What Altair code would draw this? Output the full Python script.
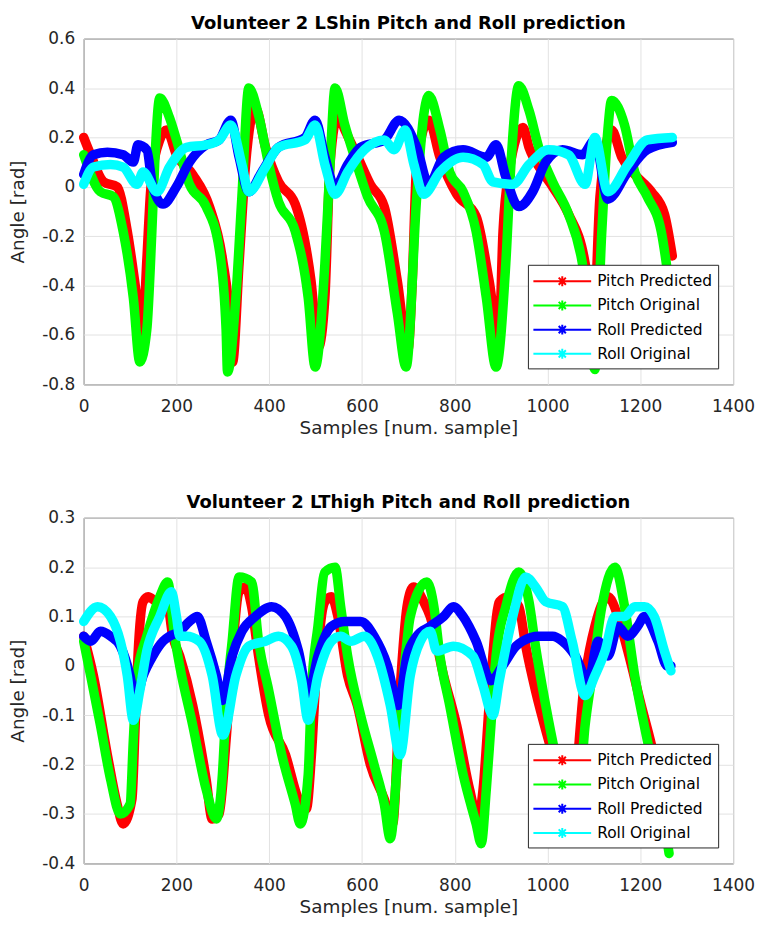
import altair as alt
import pandas as pd

SERIES = ["Pitch Predicted", "Pitch Original", "Roll Predicted", "Roll Original"]
COLORS = ["#ff0000", "#00ff00", "#0000ff", "#00ffff"]
X_TICKS = [0, 200, 400, 600, 800, 1000, 1200, 1400]
SHIN_Y_TICKS = [-0.8, -0.6, -0.4, -0.2, 0, 0.2, 0.4, 0.6]
THIGH_Y_TICKS = [-0.4, -0.3, -0.2, -0.1, 0, 0.1, 0.2, 0.3]

# ---------- LShin ----------
shin_pp_x = [0, 15, 43, 72, 94, 115, 127, 136, 145, 164, 179, 200, 235, 271, 299, 317, 321, 335, 349, 370,
             392, 420, 456, 490, 506, 520, 531, 548, 563, 591, 618, 648, 676, 699, 708, 718, 744, 768, 804, 846,
             874, 895, 904, 917, 947, 960, 989, 1011, 1045, 1081, 1098, 1113, 1138, 1160, 1188, 1224, 1252, 1269]
shin_pp_y = [0.20, 0.13, 0.02, 0.00, -0.18, -0.45, -0.60, -0.30, 0.00, 0.19, 0.23, 0.13, 0.05, -0.08, -0.29,
             -0.58, -0.71, -0.31, 0.09, 0.32, 0.16, 0.02, -0.07, -0.38, -0.65, -0.45, 0.09, 0.29, 0.23, 0.12,
             0.01, -0.08, -0.38, -0.66, -0.40, 0.09, 0.27, 0.12, -0.03, -0.12, -0.38, -0.62, -0.18, 0.06, 0.24,
             0.16, 0.06, 0.00, -0.11, -0.31, -0.62, -0.04, 0.23, 0.12, 0.05, -0.02, -0.11, -0.28]

shin_po_x = [0, 36, 64, 85, 107, 121, 136, 147, 153, 164, 185, 200, 228, 264, 292, 307, 310, 328, 341, 356,
             377, 399, 420, 456, 484, 499, 520, 531, 542, 563, 584, 612, 648, 676, 695, 718, 733, 744, 768, 789,
             818, 846, 868, 889, 910, 921, 938, 960, 981, 1011, 1045, 1075, 1102, 1117, 1130, 1138, 1166, 1188,
             1215, 1245, 1266]
shin_po_y = [0.13, -0.02, -0.04, -0.18, -0.45, -0.71, -0.58, -0.18, 0.09, 0.36, 0.28, 0.19, 0.01, -0.08, -0.25,
             -0.58, -0.75, -0.45, -0.04, 0.40, 0.29, 0.09, -0.06, -0.18, -0.45, -0.73, -0.31, 0.09, 0.40, 0.25,
             0.12, -0.04, -0.18, -0.51, -0.73, -0.04, 0.29, 0.37, 0.23, 0.06, -0.02, -0.18, -0.45, -0.73, -0.31,
             0.09, 0.41, 0.31, 0.16, 0.02, -0.11, -0.31, -0.74, -0.18, 0.23, 0.35, 0.25, 0.06, -0.04, -0.18, -0.45]

shin_rp_x = [0, 21, 51, 85, 107, 117, 136, 149, 171, 200, 228, 264, 292, 317, 335, 356, 384, 420, 477, 499,
             520, 542, 569, 597, 648, 680, 718, 744, 776, 818, 868, 889, 910, 938, 968, 996, 1032, 1075, 1102,
             1130, 1173, 1215, 1269]
shin_rp_y = [0.05, 0.13, 0.14, 0.13, 0.10, 0.17, 0.15, 0.00, -0.07, 0.00, 0.10, 0.17, 0.19, 0.27, 0.12, -0.02,
             0.06, 0.16, 0.20, 0.27, 0.12, 0.00, 0.09, 0.16, 0.19, 0.27, 0.16, 0.01, 0.12, 0.15, 0.12, 0.17,
             0.04, -0.08, -0.02, 0.10, 0.15, 0.13, 0.19, -0.05, 0.06, 0.15, 0.18]

shin_ro_x = [0, 21, 58, 85, 115, 128, 158, 185, 222, 264, 292, 317, 341, 356, 392, 420, 477, 499, 520, 542,
             569, 605, 648, 669, 693, 712, 733, 768, 818, 861, 882, 925, 960, 1002, 1045, 1081, 1102, 1130, 1173,
             1215, 1269]
shin_ro_y = [0.01, 0.08, 0.09, 0.08, 0.01, 0.06, -0.02, 0.08, 0.16, 0.17, 0.19, 0.25, 0.09, -0.02, 0.08, 0.16,
             0.19, 0.25, 0.09, -0.03, 0.06, 0.15, 0.19, 0.15, 0.23, 0.09, -0.03, 0.06, 0.12, 0.09, 0.02, 0.01,
             0.09, 0.15, 0.13, 0.01, 0.20, -0.02, 0.09, 0.19, 0.20]

# ---------- LThigh ----------
thigh_pp_x = [0, 21, 51, 72, 85, 104, 111, 117, 128, 139, 158, 178, 192, 207, 235, 264, 277, 292, 307, 320,
              335, 349, 362, 377, 399, 435, 463, 480, 491, 501, 520, 534, 548, 569, 590, 618, 648, 666, 682, 697,
              711, 733, 747, 776, 804, 832, 850, 861, 874, 882, 896, 917, 938, 953, 974, 1002, 1050, 1081, 1102,
              1130, 1152, 1173, 1202, 1224, 1265]
thigh_pp_y = [0.06, -0.02, -0.18, -0.28, -0.32, -0.27, -0.12, 0.02, 0.13, 0.14, 0.13, 0.14, 0.06, 0.02, -0.08,
              -0.23, -0.31, -0.30, -0.15, 0.02, 0.15, 0.16, 0.12, 0.02, -0.10, -0.18, -0.27, -0.29, -0.18, -0.02,
              0.13, 0.14, 0.10, -0.02, -0.08, -0.20, -0.27, -0.32, -0.05, 0.12, 0.16, 0.13, 0.10, -0.02, -0.12,
              -0.25, -0.31, -0.25, -0.08, 0.02, 0.13, 0.14, 0.12, 0.04, -0.05, -0.15, -0.30, -0.02, 0.08, 0.14,
              0.10, 0.03, -0.08, -0.16, -0.35]

thigh_po_x = [0, 15, 36, 58, 79, 100, 107, 115, 136, 164, 181, 196, 207, 235, 264, 286, 299, 307, 320, 335,
              362, 377, 399, 427, 456, 467, 484, 491, 505, 520, 542, 554, 569, 597, 626, 648, 661, 676, 690, 704,
              740, 755, 768, 789, 818, 846, 857, 868, 878, 889, 910, 938, 960, 974, 996, 1017, 1040, 1062, 1081,
              1096, 1117, 1145, 1166, 1188, 1215, 1245, 1262]
thigh_po_y = [0.05, -0.02, -0.12, -0.23, -0.30, -0.28, -0.15, -0.02, 0.06, 0.14, 0.17, 0.06, 0.00, -0.12, -0.25,
              -0.31, -0.22, -0.08, 0.05, 0.18, 0.17, 0.05, -0.05, -0.18, -0.28, -0.32, -0.22, -0.05, 0.08, 0.19,
              0.20, 0.12, 0.02, -0.10, -0.20, -0.28, -0.35, -0.20, -0.02, 0.10, 0.17, 0.12, 0.02, -0.08, -0.22,
              -0.32, -0.36, -0.25, -0.12, 0.02, 0.12, 0.19, 0.13, 0.04, -0.08, -0.18, -0.27, -0.32, -0.12, -0.02,
              0.12, 0.20, 0.12, -0.02, -0.15, -0.28, -0.38]

thigh_rp_x = [0, 15, 36, 58, 79, 100, 111, 128, 149, 171, 185, 207, 228, 245, 264, 286, 299, 320, 341, 370,
              405, 435, 463, 484, 505, 534, 563, 597, 626, 655, 678, 697, 718, 747, 776, 797, 818, 846, 878, 903,
              932, 946, 981, 1011, 1032, 1060, 1088, 1109, 1130, 1152, 1173, 1194, 1209, 1238, 1258, 1266]
thigh_rp_y = [0.06, 0.05, 0.07, 0.06, 0.04, -0.02, -0.07, -0.02, 0.02, 0.05, 0.06, 0.07, 0.09, 0.10, 0.05,
              -0.02, -0.07, 0.02, 0.07, 0.10, 0.12, 0.10, 0.03, -0.06, 0.02, 0.08, 0.09, 0.09, 0.06, 0.00, -0.08,
              0.02, 0.06, 0.08, 0.10, 0.12, 0.10, 0.05, -0.03, 0.00, 0.04, 0.05, 0.06, 0.06, 0.05, 0.02, -0.03,
              0.05, 0.02, 0.08, 0.06, 0.08, 0.10, 0.05, 0.00, 0.00]

thigh_ro_x = [0, 30, 58, 79, 94, 107, 121, 136, 164, 189, 200, 207, 221, 249, 277, 300, 328, 356, 392, 420,
              448, 470, 484, 505, 534, 554, 576, 605, 633, 661, 682, 704, 726, 747, 761, 797, 839, 861, 882, 896,
              925, 953, 974, 996, 1032, 1053, 1081, 1102, 1124, 1145, 1166, 1188, 1209, 1230, 1252, 1266]
thigh_ro_y = [0.09, 0.12, 0.10, 0.05, -0.02, -0.11, -0.05, 0.03, 0.10, 0.15, 0.10, 0.06, 0.06, 0.05, -0.02,
              -0.14, -0.02, 0.04, 0.05, 0.06, 0.04, -0.03, -0.11, -0.02, 0.05, 0.06, 0.05, 0.06, 0.02, -0.08,
              -0.18, -0.02, 0.05, 0.07, 0.03, 0.04, 0.02, -0.04, -0.10, -0.03, 0.10, 0.18, 0.16, 0.13, 0.12,
              0.05, -0.06, -0.02, 0.03, 0.10, 0.10, 0.12, 0.12, 0.10, 0.03, -0.01]


def build(series_xy):
    rows = []
    for name, xs, ys in series_xy:
        assert len(xs) == len(ys), name
        for x, y in zip(xs, ys):
            rows.append({"sample": x, "angle": y, "series": name})
    return pd.DataFrame(rows)


shin_df = build([(SERIES[0], shin_pp_x, shin_pp_y), (SERIES[1], shin_po_x, shin_po_y),
                 (SERIES[2], shin_rp_x, shin_rp_y), (SERIES[3], shin_ro_x, shin_ro_y)])
thigh_df = build([(SERIES[0], thigh_pp_x, thigh_pp_y), (SERIES[1], thigh_po_x, thigh_po_y),
                  (SERIES[2], thigh_rp_x, thigh_rp_y), (SERIES[3], thigh_ro_x, thigh_ro_y)])

FONT = "DejaVu Sans"
STAR_LINE = ("M-2.9,0H2.9M0,-0.5V0.5M-0.36,-0.36L0.36,0.36M-0.36,0.36L0.36,-0.36")


def panel(df, title, ydom, yticks):
    base = alt.Chart(df)
    layers = []
    for s in SERIES:
        layers.append(
            base.transform_filter(alt.datum.series == s)
            .mark_line(strokeWidth=9.5, strokeCap="round", strokeJoin="round", interpolate="monotone")
            .encode(
                x=alt.X("sample:Q", scale=alt.Scale(domain=[0, 1400], nice=False),
                        axis=alt.Axis(values=X_TICKS, format="d", title="Samples [num. sample]")),
                y=alt.Y("angle:Q", scale=alt.Scale(domain=ydom, nice=False),
                        axis=alt.Axis(values=yticks, title="Angle [rad]",
                                      labelExpr="'' + round(datum.value*10)/10")),
                color=alt.Color("series:N", scale=alt.Scale(domain=SERIES, range=COLORS),
                                legend=alt.Legend(title=None, orient="none", legendX=446, legendY=227,
                                                  symbolType=STAR_LINE, symbolSize=400,
                                                  symbolStrokeWidth=2, symbolOffset=18,
                                                  labelOffset=24, rowPadding=4.3, padding=5.5,
                                                  fillColor="white", strokeColor="#262626",
                                                  labelFont=FONT, labelFontSize=15.5,
                                                  labelColor="#000000")),
            )
        )
    return alt.layer(*layers).properties(
        width=652, height=347,
        title=alt.TitleParams(title, font=FONT, fontSize=18, fontWeight="bold", color="#000000",
                              anchor="middle", offset=-3),
    )


top = panel(shin_df, "Volunteer 2 LShin Pitch and Roll prediction", [-0.8, 0.6], SHIN_Y_TICKS)
bottom = panel(thigh_df, "Volunteer 2 LThigh Pitch and Roll prediction", [-0.4, 0.3], THIGH_Y_TICKS)

chart = (
    alt.vconcat(top, bottom, spacing=56)
    .resolve_scale(color="independent")
    .resolve_legend(color="independent")
    .configure_view(stroke="#262626", strokeWidth=1)
    .configure_axis(
        grid=True, gridColor="#e2e2e2", gridWidth=1, domain=False, ticks=False, labelFlush=False,
        labelFont=FONT, labelFontSize=17, labelColor="#262626",
        titleFont=FONT, titleFontSize=18.5, titleColor="#262626", titleFontWeight="normal",
    )
    .configure_axisX(labelPadding=14, titlePadding=4)
    .configure_axisY(labelPadding=9, titlePadding=14)
    .properties(padding={"left": 0, "top": 4, "right": 0, "bottom": 0})
)

chart.save("out.html", embed_options={"renderer": "svg", "actions": False})
